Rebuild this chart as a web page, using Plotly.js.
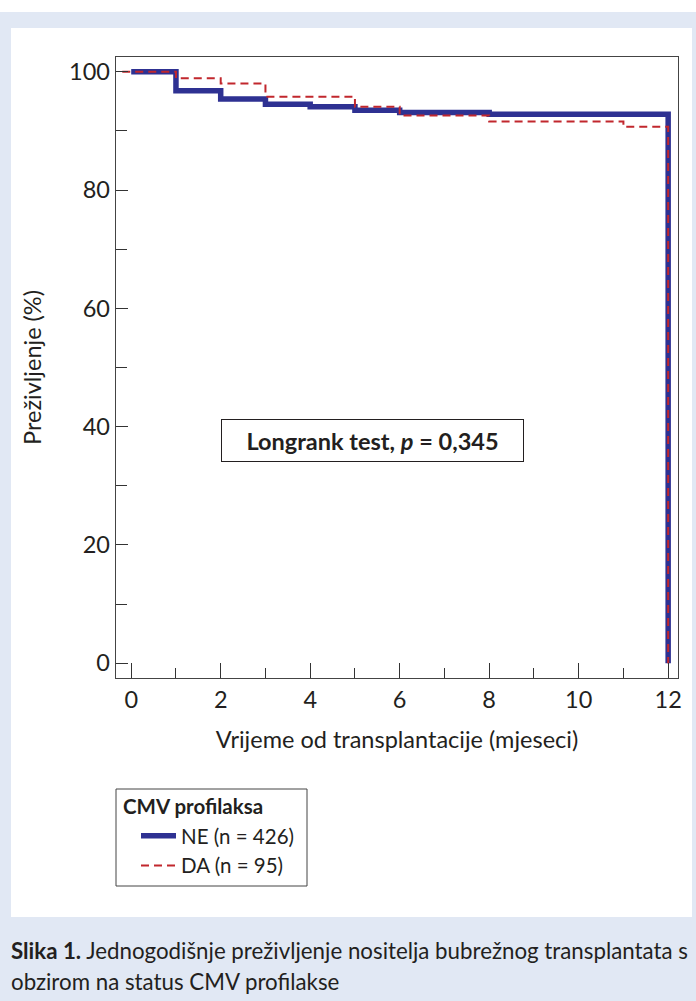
<!DOCTYPE html>
<html>
<head>
<meta charset="utf-8">
<script src="https://cdn.plot.ly/plotly-3.0.1.min.js"></script>
<style>
html,body{margin:0;padding:0;background:#ffffff;}
#chart{width:696px;height:1001px;}
</style>
</head>
<body>
<div id="chart"></div>
<script>
// Data (Kaplan-Meier steps)
const neTime = [0, 1, 2, 3, 4, 5, 6, 8, 12, 12];
const neSurv = [100, 96.8, 95.4, 94.5, 94.1, 93.5, 93.1, 92.8, 92.8, 0];
const daTime = [-0.2, 1, 2, 3, 5, 6, 8, 11, 12, 12];
const daSurv = [100, 98.9, 98.0, 95.8, 94.1, 92.6, 91.6, 90.7, 90.7, 0];
const seriesNames = ["NE (n = 426)", "DA (n = 95)"];
const legendTitle = "CMV profilaksa";
const xTicks = [0, 2, 4, 6, 8, 10, 12];
const yTicks = [0, 20, 40, 60, 80, 100];
const xTitle = "Vrijeme od transplantacije (mjeseci)";
const yTitle = "Preživljenje (%)";
const testLabel = "Longrank test, <i>p</i> = 0,345";
const captionLine1 = "<b>Slika 1.</b> Jednogodišnje preživljenje nositelja bubrežnog transplantata s";
const captionLine2 = "obzirom na status CMV profilakse";

const W = 696, H = 1001;
const L = 116, R = 678, T = 57, B = 678;
const pw = R - L, ph = B - T;
const px = v => (v - L) / pw;
const py = v => (B - v) / ph;

const FONT = "Lato, 'Open Sans', sans-serif";
const TXT = "#231f20";
const FS = 23.5;

const traces = [
  {x: neTime, y: neSurv, name: seriesNames[0], legendgroup: "ne", type: "scatter", mode: "lines",
   line: {shape: "hv", color: "#2e3192", width: 5.5}},
  {x: daTime, y: daSurv, name: seriesNames[1], legendgroup: "da", type: "scatter", mode: "lines",
   line: {shape: "hv", color: "#c1272d", width: 2, dash: "8px,5px"}}
];

const layout = {
  width: W, height: H,
  margin: {l: L, r: W - R, t: T, b: H - B, pad: 0},
  paper_bgcolor: "#ffffff",
  plot_bgcolor: "rgba(0,0,0,0)",
  font: {family: FONT, color: TXT, size: FS},
  showlegend: true,
  legend: {
    x: px(136), y: py(816), xanchor: "left", yanchor: "top",
    bgcolor: "rgba(0,0,0,0)", borderwidth: 0,
    font: {family: FONT, size: 20.5, color: TXT},
    itemwidth: 35, tracegroupgap: 0
  },
  xaxis: {
    range: [-0.34, 12.22], tickvals: xTicks, ticktext: xTicks.map(String),
    ticks: "inside", ticklen: 15, tickwidth: 1, tickcolor: "#333",
    minor: {ticks: "inside", dtick: 1, tick0: 0, ticklen: 10, tickwidth: 1, tickcolor: "#333"},
    showgrid: false, zeroline: false,
    showline: true, linecolor: "#444", linewidth: 1.3, mirror: true,
    tickfont: {family: FONT, size: FS, color: TXT},
    title: {text: xTitle, font: {family: FONT, size: FS, color: TXT}, standoff: 20},
    automargin: false, fixedrange: true
  },
  yaxis: {
    range: [-2.5, 102.5], tickvals: yTicks, ticktext: yTicks.map(String),
    ticks: "inside", ticklen: 12, tickwidth: 1, tickcolor: "#333",
    minor: {ticks: "inside", dtick: 10, tick0: 0, ticklen: 11, tickwidth: 1, tickcolor: "#333"},
    showgrid: false, zeroline: false,
    showline: true, linecolor: "#444", linewidth: 1.3, mirror: true,
    tickfont: {family: FONT, size: FS, color: TXT},
    title: {text: yTitle, font: {family: FONT, size: FS, color: TXT}, standoff: 21},
    automargin: false, fixedrange: true
  },
  shapes: [
    {type: "rect", xref: "paper", yref: "paper", layer: "below",
     x0: px(0), x1: px(696), y0: py(12), y1: py(1001),
     fillcolor: "#e1e8f4", line: {width: 0}},
    {type: "rect", xref: "paper", yref: "paper", layer: "below",
     x0: px(11), x1: px(692), y0: py(28), y1: py(917),
     fillcolor: "#ffffff", line: {width: 0}},
    {type: "rect", xref: "paper", yref: "paper", layer: "above",
     x0: px(116), x1: px(307), y0: py(789), y1: py(886),
     fillcolor: "rgba(0,0,0,0)", line: {width: 1, color: "#444"}}
  ],
  annotations: [
    {xref: "paper", yref: "paper", x: px(372.5), y: py(440.5), xanchor: "center", yanchor: "middle",
     text: "<b>" + testLabel + "</b>", showarrow: false,
     font: {family: FONT, size: FS, color: TXT},
     width: 301, height: 41, bordercolor: "#231f20", borderwidth: 1, borderpad: 0, bgcolor: "#ffffff"},
    {xref: "paper", yref: "paper", x: px(121), y: py(806), xanchor: "left", yanchor: "middle",
     text: "<b>" + legendTitle + "</b>", showarrow: false, align: "left",
     font: {family: FONT, size: 20.5, color: TXT}},
    {xref: "paper", yref: "paper", x: px(9), y: py(950), xanchor: "left", yanchor: "middle",
     text: captionLine1, showarrow: false, align: "left",
     font: {family: FONT, size: 22.3, color: TXT}},
    {xref: "paper", yref: "paper", x: px(9), y: py(981), xanchor: "left", yanchor: "middle",
     text: captionLine2, showarrow: false, align: "left",
     font: {family: FONT, size: 22.3, color: TXT}}
  ]
};

Plotly.newPlot("chart", traces, layout, {displayModeBar: false, staticPlot: true});
</script>
</body>
</html>
